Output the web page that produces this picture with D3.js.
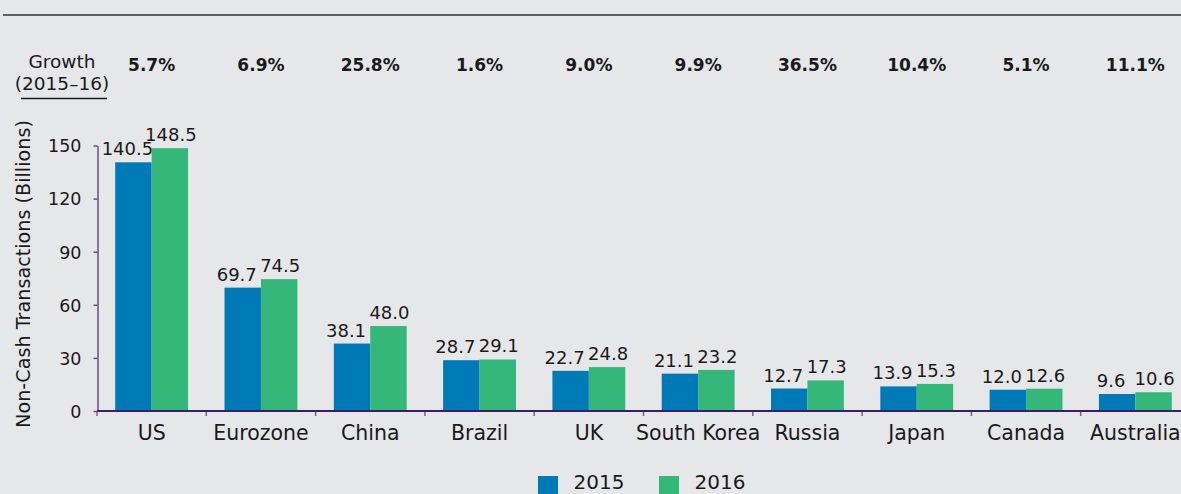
<!DOCTYPE html>
<html>
<head>
<meta charset="utf-8">
<script src="https://cdn.jsdelivr.net/npm/d3@7"></script>
<style>
  html, body { margin: 0; padding: 0; background: #e6e7e9; }
  svg { display: block; }
  text { font-family: "DejaVu Sans", Verdana, sans-serif; fill: #1a1a1a; }
</style>
</head>
<body>
<svg id="chart" width="1181" height="494"></svg>
<script>
const categories = ["US", "Eurozone", "China", "Brazil", "UK", "South Korea", "Russia", "Japan", "Canada", "Australia"];
const seriesNames = ["2015", "2016"];
const values2015 = [140.5, 69.7, 38.1, 28.7, 22.7, 21.1, 12.7, 13.9, 12.0, 9.6];
const values2016 = [148.5, 74.5, 48.0, 29.1, 24.8, 23.2, 17.3, 15.3, 12.6, 10.6];
const growth = ["5.7%", "6.9%", "25.8%", "1.6%", "9.0%", "9.9%", "36.5%", "10.4%", "5.1%", "11.1%"];
const yTicks = [0, 30, 60, 90, 120, 150];
const colors = ["#007ab6", "#36b77a"];

const svg = d3.select("#chart");
const W = 1181, H = 494;

svg.append("rect").attr("width", W).attr("height", H).attr("fill", "#e6e7e9");

// top rule
svg.append("line").attr("x1", 3).attr("x2", W).attr("y1", 15).attr("y2", 15)
  .attr("stroke", "#333").attr("stroke-width", 1.5);

const x = d3.scaleBand().domain(categories).range([97, 97 + 109.3 * categories.length]).padding(0);
const xs = d3.scaleBand().domain(seriesNames).range([0, x.bandwidth()]).paddingInner(0).paddingOuter(0.5);
const y = d3.scaleLinear().domain([0, 150]).range([411, 145.5]);

const rows = categories.map((c, i) => ({ cat: c, vals: [values2015[i], values2016[i]], growth: growth[i] }));

// bars
const g = svg.append("g");
rows.forEach(r => {
  seriesNames.forEach((s, si) => {
    g.append("rect")
      .attr("x", x(r.cat) + xs(s))
      .attr("y", y(r.vals[si]))
      .attr("width", xs.bandwidth())
      .attr("height", y(0) - y(r.vals[si]))
      .attr("fill", colors[si]);
    g.append("text")
      .attr("x", x(r.cat) + xs(s) + xs.bandwidth() / 2 + (si === 0 ? -6 : 1))
      .attr("y", y(r.vals[si]) - 7)
      .attr("text-anchor", "middle")
      .attr("font-size", 18)
      .text(r.vals[si].toFixed(1));
  });
});

// y axis
const yAxis = d3.axisLeft(y).tickValues(yTicks).tickSize(4).tickSizeOuter(0).tickPadding(12);
const ya = svg.append("g").attr("transform", "translate(97.5,0)").call(yAxis);
ya.select(".domain").attr("stroke", "#6a4c8c").attr("stroke-width", 1.5);
ya.selectAll(".tick line").attr("stroke", "#6a4c8c").attr("stroke-width", 1.5);
ya.selectAll(".tick text").attr("font-size", 17.5).attr("font-family", "DejaVu Sans").attr("fill", "#1a1a1a").attr("dy", "0.36em");

// x axis
const xAxis = d3.axisBottom(x).tickSize(0).tickSizeOuter(0).tickPadding(14);
const xa = svg.append("g").attr("transform", "translate(0,411)").call(xAxis);
xa.select(".domain").attr("stroke", "#3a1c6a").attr("stroke-width", 2).attr("d", "M97,0H" + W);
xa.selectAll(".tick text").attr("font-size", 20.5).attr("font-family", "DejaVu Sans").attr("fill", "#1a1a1a").attr("dy", "0.71em");
// boundary ticks
const bounds = categories.map(c => x(c)).concat([x.range()[1]]);
svg.append("g").selectAll("line").data(bounds).join("line")
  .attr("x1", d => d).attr("x2", d => d).attr("y1", 412).attr("y2", 416)
  .attr("stroke", "#7a5c9c").attr("stroke-width", 1.5);

// y title
svg.append("text")
  .attr("transform", "translate(30,274) rotate(-90)")
  .attr("text-anchor", "middle")
  .attr("font-size", 19.2)
  .text("Non-Cash Transactions (Billions)");

// growth header
svg.append("text").attr("x", 62).attr("y", 67.5).attr("text-anchor", "middle").attr("font-size", 18.5).text("Growth");
svg.append("text").attr("x", 62).attr("y", 90).attr("text-anchor", "middle").attr("font-size", 18.5).text("(2015–16)");
svg.append("line").attr("x1", 21).attr("x2", 107).attr("y1", 98.5).attr("y2", 98.5)
  .attr("stroke", "#1a1a1a").attr("stroke-width", 1.5);

svg.append("g").selectAll("text").data(rows).join("text")
  .attr("x", d => x(d.cat) + x.bandwidth() / 2)
  .attr("y", 71)
  .attr("text-anchor", "middle")
  .attr("font-size", 17)
  .attr("font-weight", "bold")
  .text(d => d.growth);

// legend
const legX = [538, 659];
const lg = svg.append("g");
seriesNames.forEach((s, i) => {
  lg.append("rect").attr("x", legX[i]).attr("y", 476).attr("width", 20).attr("height", 20).attr("fill", colors[i]);
  lg.append("text").attr("x", legX[i] + 35.5).attr("y", 489).attr("font-size", 20).text(s);
});
</script>
</body>
</html>
